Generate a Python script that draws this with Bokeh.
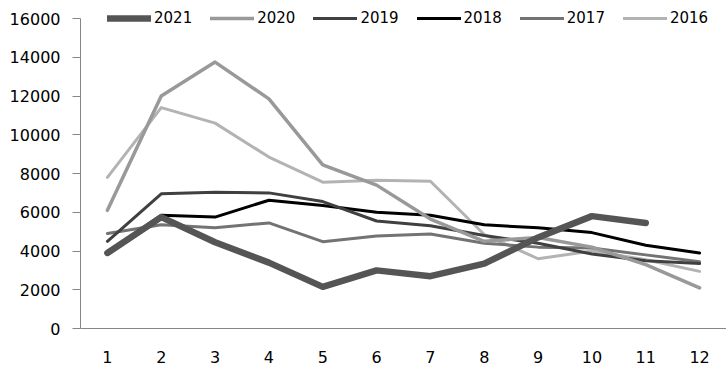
from bokeh.plotting import figure
from bokeh.models import Legend, LegendItem, Range1d, FixedTicker
from bokeh.embed import file_html
from bokeh.resources import INLINE

months = [1, 2, 3, 4, 5, 6, 7, 8, 9, 10, 11, 12]
y2021 = [3900, 5750, 4450, 3400, 2150, 3000, 2700, 3350, 4700, 5800, 5450]
y2020 = [6100, 12000, 13750, 11850, 8450, 7400, 5650, 4500, 4700, 4200, 3300, 2100]
y2019 = [4500, 6950, 7030, 7000, 6550, 5550, 5300, 4800, 4400, 3850, 3500, 3350]
y2018 = [3950, 5850, 5750, 6620, 6350, 6000, 5850, 5350, 5200, 4950, 4300, 3900]
y2017 = [4900, 5350, 5200, 5450, 4480, 4780, 4880, 4400, 4200, 4150, 3800, 3450]
y2016 = [7800, 11400, 10600, 8850, 7550, 7650, 7600, 4850, 3600, 4000, 3550, 2950]
y_ticks = [0, 2000, 4000, 6000, 8000, 10000, 12000, 14000, 16000]

series = [
    ("2021", y2021, "#555555", 6.5),
    ("2020", y2020, "#999999", 3.5),
    ("2019", y2019, "#404040", 3),
    ("2018", y2018, "#000000", 3),
    ("2017", y2017, "#737373", 3),
    ("2016", y2016, "#b3b3b3", 3),
]

p = figure(width=726, height=368, output_backend="svg", toolbar_location=None,
           x_range=Range1d(0.5, 12.5), y_range=Range1d(0, 16620),
           min_border_left=80, min_border_right=0, min_border_top=6, min_border_bottom=40)
p.outline_line_color = None
p.xgrid.visible = False
p.ygrid.visible = False

renderers = []
for name, ys, color, w in reversed(series):
    r = p.line(months[:len(ys)], ys, line_color=color, line_width=w,
               line_join="round", line_cap="round")
    renderers.append((name, r))
rmap = dict(renderers)

font = "DejaVu Sans"
p.yaxis.ticker = FixedTicker(ticks=y_ticks)
p.yaxis.bounds = (0, 16000)
p.yaxis.minor_tick_line_color = None
p.yaxis.major_tick_out = 8
p.yaxis.major_tick_in = 0
p.yaxis.major_label_standoff = 12
p.yaxis.axis_line_color = "#868686"
p.yaxis.major_tick_line_color = "#868686"
p.yaxis.major_label_text_font = font
p.yaxis.major_label_text_font_size = "16px"
p.yaxis.major_label_text_color = "black"

p.xaxis.ticker = FixedTicker(ticks=months)
p.xaxis.minor_tick_line_color = None
p.xaxis.major_tick_line_color = None
p.xaxis.major_label_standoff = 16
p.xaxis.axis_line_color = "#868686"
p.xaxis.major_label_text_font = font
p.xaxis.major_label_text_font_size = "16px"
p.xaxis.major_label_text_color = "black"

items = [LegendItem(label=name, renderers=[rmap[name]]) for name, _, _, _ in series]
legend = Legend(items=items, orientation="horizontal", location=(27, 300),
                glyph_width=44, glyph_height=20, label_standoff=3, spacing=18,
                padding=0, margin=0, background_fill_alpha=0, border_line_color=None,
                label_text_font=font, label_text_font_size="15px", label_text_color="black")
p.add_layout(legend)

open("out.html", "w").write(file_html(p, INLINE))
